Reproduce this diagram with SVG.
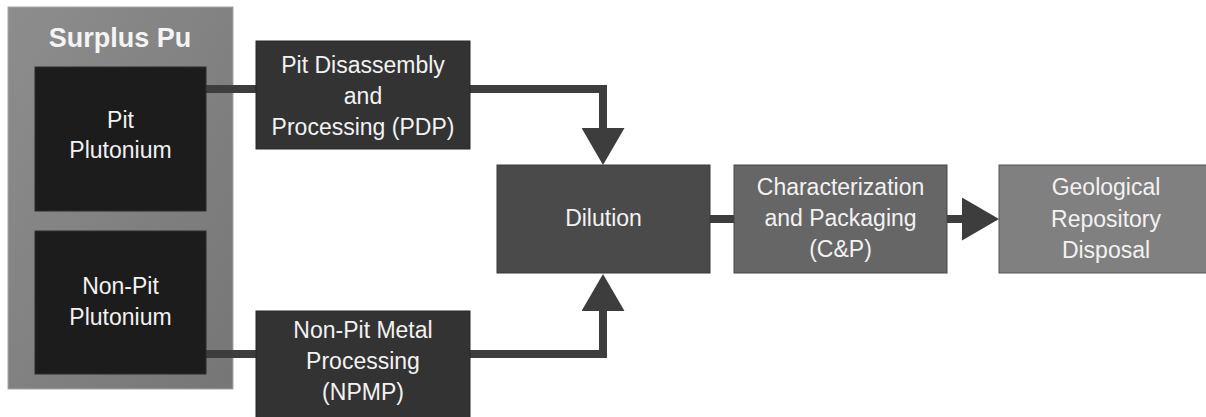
<svg xmlns="http://www.w3.org/2000/svg" width="1206" height="417" viewBox="0 0 1206 417">
  <style>
    .lbl { font-family: "Liberation Sans", Arial, sans-serif; font-size: 23px; fill: #f2f2f2; text-anchor: middle; }
    .title { font-family: "Liberation Sans", Arial, sans-serif; font-size: 27px; font-weight: bold; fill: #f4f4f4; text-anchor: middle; }
    .src { fill: #1c1c1c; stroke: #2c2c2c; stroke-width: 1; }
    .proc { fill: #333333; stroke: #282828; stroke-width: 1; }
    .conn { fill: none; stroke: #3d3d3d; stroke-width: 8; }
  </style>
  <defs>
    <linearGradient id="outerGrad" x1="0" y1="0" x2="1" y2="1">
      <stop offset="0" stop-color="#8d8d8d"/>
      <stop offset="1" stop-color="#767676"/>
    </linearGradient>
    <marker id="arrow" viewBox="0 0 37 43" markerWidth="37" markerHeight="43" refX="0" refY="21.5" orient="auto" markerUnits="userSpaceOnUse">
      <path d="M0,0 L37,21.5 L0,43 Z" fill="#3d3d3d"/>
    </marker>
  </defs>
  <rect width="1206" height="417" fill="#ffffff"/>

  <g id="surplus-pu">
    <rect x="8" y="7" width="225" height="382" fill="url(#outerGrad)" stroke="#a6a6a6" stroke-width="1"/>
    <text class="title" x="120" y="47">Surplus Pu</text>
  </g>

  <g id="connectors">
    <path class="conn" d="M206,89 H256"/>
    <path class="conn" d="M206,354 H256"/>
    <path class="conn" d="M470,89 H603 V128" marker-end="url(#arrow)"/>
    <path class="conn" d="M470,354 H603 V311" marker-end="url(#arrow)"/>
    <path class="conn" d="M710,219 H734"/>
    <path class="conn" d="M947,219 H962" marker-end="url(#arrow)"/>
  </g>

  <g id="pit-plutonium">
    <rect class="src" x="35" y="67" width="171" height="144"/>
    <text class="lbl" x="120.5" y="128">Pit</text>
    <text class="lbl" x="120.5" y="158">Plutonium</text>
  </g>

  <g id="non-pit-plutonium">
    <rect class="src" x="35" y="231" width="171" height="143"/>
    <text class="lbl" x="120.5" y="294">Non-Pit</text>
    <text class="lbl" x="120.5" y="325">Plutonium</text>
  </g>

  <g id="pdp">
    <rect class="proc" x="256" y="41" width="214" height="108"/>
    <text class="lbl" x="363" y="73">Pit Disassembly</text>
    <text class="lbl" x="363" y="104">and</text>
    <text class="lbl" x="363" y="135">Processing (PDP)</text>
  </g>

  <g id="npmp">
    <rect class="proc" x="256" y="311" width="214" height="110"/>
    <text class="lbl" x="363" y="338">Non-Pit Metal</text>
    <text class="lbl" x="363" y="369">Processing</text>
    <text class="lbl" x="363" y="400">(NPMP)</text>
  </g>

  <g id="dilution">
    <rect x="497" y="165" width="213" height="108" fill="#4a4a4a" stroke="#383838" stroke-width="1"/>
    <text class="lbl" x="603.5" y="226">Dilution</text>
  </g>

  <g id="cp">
    <rect x="734" y="165" width="213" height="108" fill="#666666" stroke="#454545" stroke-width="1"/>
    <text class="lbl" x="840.5" y="195">Characterization</text>
    <text class="lbl" x="840.5" y="226">and Packaging</text>
    <text class="lbl" x="840.5" y="257">(C&amp;P)</text>
  </g>

  <g id="geological">
    <rect x="999" y="165" width="214" height="108" fill="#808080" stroke="#555555" stroke-width="1"/>
    <text class="lbl" x="1106" y="195">Geological</text>
    <text class="lbl" x="1106" y="227">Repository</text>
    <text class="lbl" x="1106" y="258">Disposal</text>
  </g>
</svg>
